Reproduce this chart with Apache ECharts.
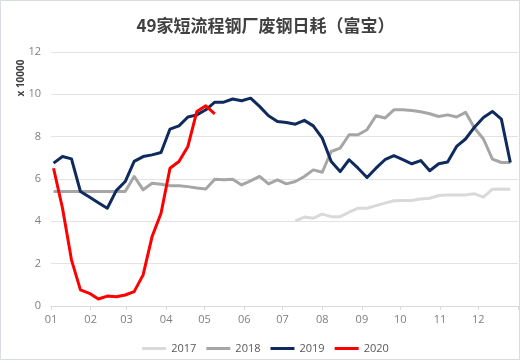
<!DOCTYPE html>
<html>
<head>
<meta charset="utf-8">
<script src="https://cdn.jsdelivr.net/npm/echarts@6/dist/echarts.min.js"></script>
<style>
  html, body { margin: 0; padding: 0; background: #fff; }
  #wrap { position: relative; width: 531px; height: 363px; }
  #chart { position: absolute; left: 0; top: 0; width: 531px; height: 363px; }
  #frame { position: absolute; left: 0; top: 0; width: 520px; height: 360px; box-sizing: border-box;
           border: 1px solid #d9dde3; pointer-events: none; }
</style>
</head>
<body>
<div id="wrap"><div id="chart"></div><div id="frame"></div></div>
<script>
// Day-of-year of each weekly observation
const weekDays = [2, 9, 16, 23, 30, 37, 44, 51, 58, 65, 72, 79, 86, 93, 100, 107, 114, 121, 128, 135,
  142, 149, 156, 163, 170, 177, 184, 191, 198, 205, 212, 219, 226, 233, 240, 247, 254, 261, 268, 275,
  282, 289, 296, 303, 310, 317, 324, 331, 338, 345, 352, 359];

// Month ticks (day-of-year of month start) and labels
const monthStarts = [0, 31, 59, 90, 120, 151, 181, 212, 243, 273, 304, 334];
const monthLabels = ['01', '02', '03', '04', '05', '06', '07', '08', '09', '10', '11', '12'];
const yearEnd = 365;

// Values, unit: x 10000 tons per day
const s2017 = [null, null, null, null, null, null, null, null, null, null,
  null, null, null, null, null, null, null, null, null, null,
  null, null, null, null, null, null, null,
  4.02, 4.20, 4.15, 4.34, 4.22, 4.22, 4.43, 4.62, 4.62, 4.74, 4.86, 4.97, 4.98,
  4.98, 5.06, 5.09, 5.22, 5.25, 5.25, 5.25, 5.30, 5.14, 5.52, 5.53, 5.52];
const s2018 = [5.41, 5.41, 5.41, 5.41, 5.41, 5.41, 5.41, 5.41, 5.41, 6.12,
  5.49, 5.80, 5.75, 5.68, 5.68, 5.64, 5.58, 5.53, 5.99, 5.96,
  5.99, 5.72, 5.91, 6.12, 5.77, 5.96, 5.77, 5.88, 6.12, 6.43,
  6.32, 7.30, 7.46, 8.09, 8.09, 8.33, 8.99, 8.88, 9.27, 9.27,
  9.24, 9.18, 9.08, 8.95, 9.03, 8.93, 9.15, 8.41, 7.89, 6.94,
  6.78, 6.78];
const s2019 = [6.75, 7.06, 6.95, 5.41, 5.15, 4.88, 4.62, 5.45, 5.88, 6.83,
  7.06, 7.14, 7.25, 8.36, 8.51, 8.93, 9.03, 9.27, 9.63, 9.63,
  9.78, 9.70, 9.82, 9.43, 8.99, 8.72, 8.67, 8.59, 8.77, 8.51,
  7.93, 6.83, 6.35, 6.91, 6.51, 6.07, 6.51, 6.91, 7.10, 6.91,
  6.72, 6.87, 6.39, 6.72, 6.80, 7.54, 7.89, 8.45, 8.91, 9.19,
  8.83, 6.78];
const s2020 = [6.51, 4.62, 2.18, 0.76, 0.60, 0.33, 0.47, 0.44, 0.52, 0.68,
  1.47, 3.28, 4.38, 6.51, 6.83, 7.54, 9.19, 9.46, 9.08];

const seriesNames = ['2017', '2018', '2019', '2020'];
const seriesColors = ['#d9d9d9', '#a6a6a6', '#0f2a5c', '#ff0000'];
const seriesValues = [s2017, s2018, s2019, s2020];

function toPoints(vals) {
  return vals.map((v, i) => [weekDays[i], v]);
}

const chart = echarts.init(document.getElementById('chart'), null, { renderer: 'canvas' });
const font = '"Open Sans", "Noto Sans", sans-serif';

chart.setOption({
  animation: false,
  backgroundColor: '#ffffff',
  title: {
    text: '49家短流程钢厂废钢日耗（富宝）',
    left: 'center',
    top: 12,
    textStyle: { fontFamily: '"Noto Sans CJK SC", sans-serif', fontSize: 17, fontWeight: 'bold', color: '#404040' }
  },
  grid: { left: 51, right: 13, top: 52, bottom: 57, containLabel: false },
  legend: {
    data: seriesNames.map((n, i) => ({ name: n, icon: 'rect', itemStyle: { color: seriesColors[i] } })),
    left: 'center',
    top: 338,
    itemWidth: 24,
    itemHeight: 3,
    itemGap: 10,
    textStyle: { fontFamily: font, fontSize: 11, color: '#595959' }
  },
  xAxis: {
    type: 'value',
    min: 0,
    max: yearEnd,
    axisLine: { show: true, lineStyle: { color: '#d9d9d9', width: 1 } },
    axisTick: { show: true, length: 4, lineStyle: { color: '#d9d9d9' }, customValues: monthStarts.concat([yearEnd]) },
    axisLabel: {
      customValues: monthStarts,
      formatter: (v) => monthLabels[monthStarts.indexOf(Math.round(v))] || '',
      fontFamily: font, fontSize: 11, color: '#7f7f7f', margin: 8
    },
    splitLine: { show: false }
  },
  yAxis: {
    type: 'value',
    min: 0,
    max: 12,
    interval: 2,
    axisLine: { show: false },
    axisTick: { show: false },
    axisLabel: { fontFamily: font, fontSize: 11, color: '#7f7f7f', margin: 10 },
    splitLine: { lineStyle: { color: '#e3e3e3', width: 1 } }
  },
  graphic: [{
    type: 'text',
    x: 21, y: 78,
    rotation: Math.PI / 2,
    style: { text: 'x 10000', font: 'bold 10px "Open Sans", sans-serif', fill: '#404040', align: 'center', verticalAlign: 'middle' }
  }],
  series: seriesNames.map((n, i) => ({
    name: n,
    type: 'line',
    data: toPoints(seriesValues[i]),
    showSymbol: false,
    symbol: 'none',
    connectNulls: false,
    lineStyle: { color: seriesColors[i], width: 3, join: 'round' },
    itemStyle: { color: seriesColors[i] },
    emphasis: { disabled: true }
  }))
});
</script>
</body>
</html>
